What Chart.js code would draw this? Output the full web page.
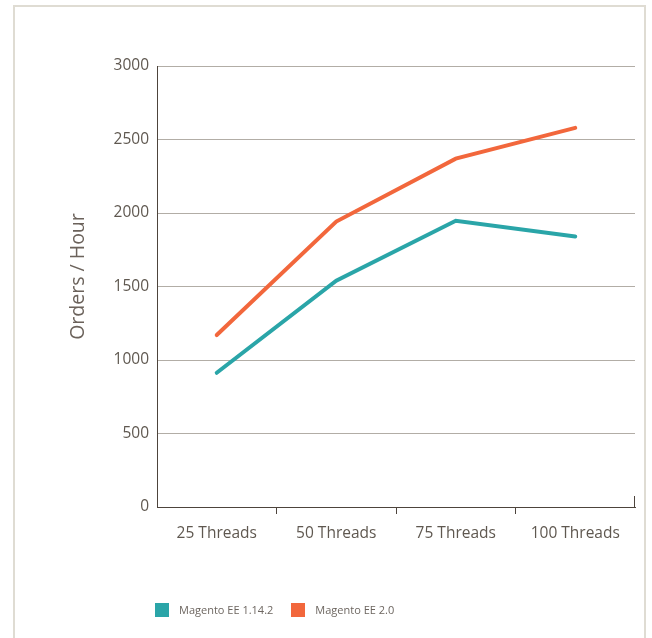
<!DOCTYPE html>
<html>
<head>
<meta charset="utf-8">
<script src="https://cdn.jsdelivr.net/npm/chart.js@4/dist/chart.umd.min.js"></script>
<style>
  html, body { margin: 0; padding: 0; background: #fff; }
  body { width: 652px; height: 638px; position: relative; overflow: hidden; font-family: "Open Sans", sans-serif; }
  #frame { position: absolute; left: 13px; top: 5px; width: 629px; height: 700px; border: 2px solid #dfdcd3; box-sizing: content-box; }
  #wrap { position: absolute; left: 0; top: 0; width: 652px; height: 638px; }
  #legend { position: absolute; left: 155px; top: 602px; display: flex; align-items: center; font-size: 11px; color: #6d6660; }
  #legend .item { display: flex; align-items: center; margin-right: 18px; }
  #legend .box { width: 14px; height: 14px; margin-right: 10px; }
</style>
</head>
<body>
<div id="frame"></div>
<div id="wrap"><canvas id="c" width="652" height="638"></canvas></div>
<div id="legend"></div>
<script>
// Throughput benchmark: orders per hour at each thread count
const categories = ["25 Threads", "50 Threads", "75 Threads", "100 Threads"];
const seriesNames = ["Magento EE 1.14.2", "Magento EE 2.0"];
const ee114 = [913, 1540, 1947, 1840];
const ee20 = [1170, 1942, 2370, 2579];
const yTicks = [0, 500, 1000, 1500, 2000, 2500, 3000];
const yTitle = "Orders / Hour";

const colors = ["#2aa5a8", "#f2673c"];
const axisColor = "#4d443c";
const gridColor = "#b2ada6";
const textColor = "#5f5850";

// Rotated y-axis caption, short tick at the right end of the x axis
const decorations = {
  id: "decorations",
  afterDraw(chart) {
    const { ctx, chartArea } = chart;
    ctx.save();
    ctx.strokeStyle = axisColor;
    ctx.lineWidth = 1;
    ctx.beginPath();
    ctx.moveTo(Math.round(chartArea.right) - 0.5, chartArea.bottom);
    ctx.lineTo(Math.round(chartArea.right) - 0.5, chartArea.bottom - 11);
    ctx.stroke();

    ctx.translate(chartArea.left - 79, (chartArea.top + chartArea.bottom) / 2 - 10);
    ctx.rotate(-Math.PI / 2);
    ctx.fillStyle = "#6b625b";
    ctx.font = '19.5px "Open Sans"';
    ctx.textAlign = "center";
    ctx.textBaseline = "middle";
    ctx.fillText(yTitle, 0, 0);
    ctx.restore();
  }
};

const chart = new Chart(document.getElementById("c"), {
  type: "line",
  data: {
    labels: categories,
    datasets: [
      { label: seriesNames[0], data: ee114, borderColor: colors[0], backgroundColor: colors[0] },
      { label: seriesNames[1], data: ee20, borderColor: colors[1], backgroundColor: colors[1] }
    ]
  },
  options: {
    responsive: false,
    animation: false,
    devicePixelRatio: 1,
    layout: { padding: { top: 66, right: 17, bottom: 91, left: 0 } },
    elements: {
      line: { borderWidth: 4, borderCapStyle: "round", borderJoinStyle: "miter", tension: 0 },
      point: { radius: 0, hoverRadius: 0 }
    },
    plugins: { legend: { display: false }, tooltip: { enabled: false } },
    scales: {
      x: {
        offset: true,
        afterFit(s) { s.height = 40; },
        border: { display: true, color: axisColor, width: 1 },
        grid: {
          offset: true,
          drawOnChartArea: false,
          drawTicks: true,
          tickLength: 7,
          color: c => (c.index >= 1 && c.index <= categories.length - 1) ? axisColor : "rgba(0,0,0,0)"
        },
        ticks: { color: textColor, font: { family: "Open Sans", size: 15.5 }, padding: 10, maxRotation: 0 }
      },
      y: {
        min: yTicks[0],
        max: yTicks[yTicks.length - 1],
        afterFit(s) { s.width = 157; },
        afterBuildTicks(s) { s.ticks = yTicks.map(v => ({ value: v })); },
        border: { display: true, color: axisColor, width: 1 },
        grid: { color: gridColor, lineWidth: 1, drawTicks: false },
        ticks: {
          color: textColor,
          font: { family: "Open Sans", size: 15.5 },
          padding: 8,
          callback: v => String(v)
        }
      }
    }
  },
  plugins: [decorations]
});

// Legend row under the plot
const legend = document.getElementById("legend");
seriesNames.forEach((name, i) => {
  const item = document.createElement("div");
  item.className = "item";
  const box = document.createElement("span");
  box.className = "box";
  box.style.background = colors[i];
  const txt = document.createElement("span");
  txt.textContent = name;
  item.appendChild(box);
  item.appendChild(txt);
  legend.appendChild(item);
});
</script>
</body>
</html>
